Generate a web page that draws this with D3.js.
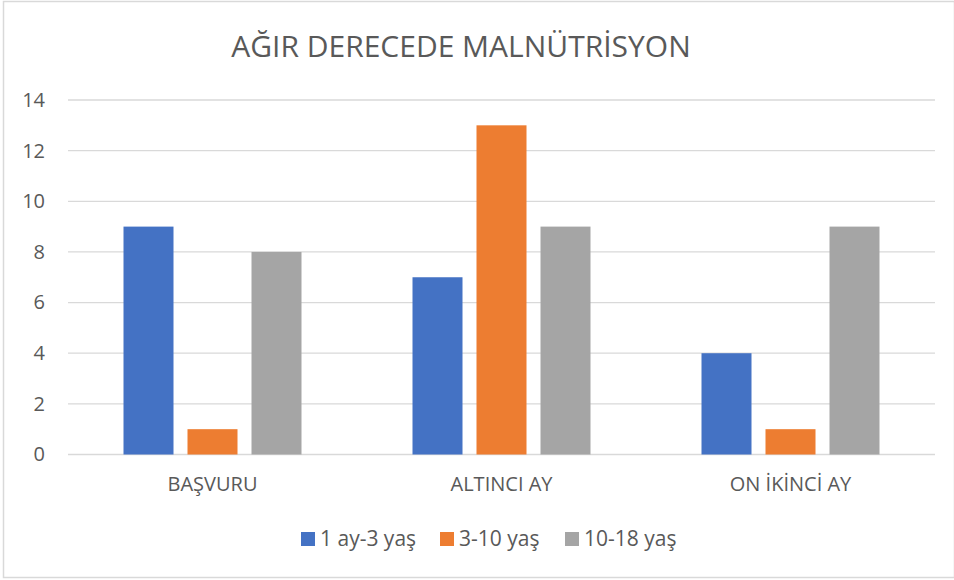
<!DOCTYPE html>
<html>
<head>
<meta charset="utf-8">
<script src="https://cdn.jsdelivr.net/npm/d3@7"></script>
<style>
  body { margin: 0; background: #fff; }
  text { font-family: "Open Sans", sans-serif; fill: #595959; }
</style>
</head>
<body>
<div id="chart"></div>
<script>
// Chart data
var categories = ["BAŞVURU", "ALTINCI AY", "ON İKİNCİ AY"];
var seriesNames = ["1 ay-3 yaş", "3-10 yaş", "10-18 yaş"];
var seriesValues = [
    [9, 7, 4],   // 1 ay-3 yaş
    [1, 13, 1],  // 3-10 yaş
    [8, 9, 9]    // 10-18 yaş
];
var yTicks = [0, 2, 4, 6, 8, 10, 12, 14];
var colors = ["#4472c4", "#ed7d31", "#a5a5a5"];

var svgWidth = 954;
var svgHeight = 580;

var plot = { left: 68, right: 935, top: 100, bottom: 454.5 };

var svg = d3.select("#chart")
    .append("svg")
    .attr("width", svgWidth)
    .attr("height", svgHeight);

// Chart border
svg.append("rect")
    .attr("x", 3.5).attr("y", 1.5)
    .attr("width", 951).attr("height", 576)
    .attr("fill", "white")
    .attr("stroke", "#d9d9d9")
    .attr("stroke-width", 1.5);

// Title
svg.append("text")
    .attr("x", 461)
    .attr("y", 57)
    .attr("text-anchor", "middle")
    .style("font-size", "30px")
    .text("AĞIR DERECEDE MALNÜTRİSYON");

// Scales
var yScale = d3.scaleLinear()
    .domain([0, 14])
    .range([plot.bottom, plot.top]);

var x0 = d3.scaleBand()
    .domain(categories)
    .range([plot.left, plot.right])
    .padding(0);

var groupWidth = 178;
var x1 = d3.scaleBand()
    .domain(d3.range(seriesNames.length))
    .range([(x0.bandwidth() - groupWidth) / 2, (x0.bandwidth() + groupWidth) / 2])
    .paddingInner(14 / 64)
    .paddingOuter(0);

// Gridlines
svg.append("g")
    .selectAll("line")
    .data(yTicks)
    .enter()
    .append("line")
    .attr("x1", plot.left)
    .attr("x2", plot.right)
    .attr("y1", d => yScale(d))
    .attr("y2", d => yScale(d))
    .attr("stroke", "#d9d9d9")
    .attr("stroke-width", 1.3);

// Y axis labels
var leftAxis = d3.axisLeft(yScale).tickValues(yTicks).tickSize(0).tickPadding(0);
var yAxis = svg.append("g")
    .attr("transform", "translate(45, 0)")
    .call(leftAxis);
yAxis.select(".domain").remove();
yAxis.selectAll("text")
    .style("font-size", "20px")
    .attr("fill", "#595959");

// Bars
var groups = svg.append("g")
    .selectAll("g")
    .data(categories)
    .enter()
    .append("g")
    .attr("transform", d => `translate(${x0(d)}, 0)`);

groups.selectAll("rect")
    .data((d, i) => seriesValues.map((vals, s) => ({ s: s, v: vals[i] })))
    .enter()
    .append("rect")
    .attr("x", d => x1(d.s))
    .attr("width", x1.bandwidth())
    .attr("y", d => yScale(d.v))
    .attr("height", d => yScale(0) - yScale(d.v))
    .attr("fill", d => colors[d.s]);

// X axis labels
var bottomAxis = d3.axisBottom(x0).tickSize(0).tickPadding(0);
var xAxis = svg.append("g")
    .attr("transform", `translate(0, ${plot.bottom + 22})`)
    .call(bottomAxis);
xAxis.select(".domain").remove();
xAxis.selectAll("text")
    .style("font-size", "20px")
    .attr("fill", "#595959");

// Legend
var legendX = [301, 440, 565];
var legend = svg.append("g")
    .selectAll("g")
    .data(seriesNames)
    .enter()
    .append("g")
    .attr("transform", (d, i) => `translate(${legendX[i]}, 532)`);

legend.append("rect")
    .attr("width", 14)
    .attr("height", 14)
    .attr("fill", (d, i) => colors[i]);

legend.append("text")
    .attr("x", 19)
    .attr("y", 14)
    .style("font-size", "21px")
    .text(d => d);
</script>
</body>
</html>
